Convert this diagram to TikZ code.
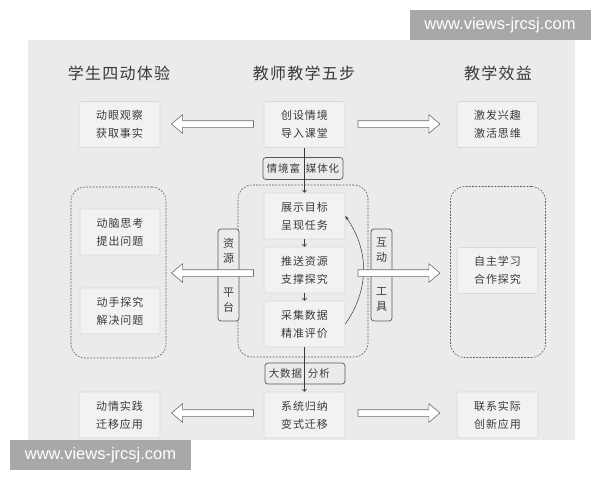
\documentclass[tikz,border=0pt]{standalone}
\usepackage{fontspec}
\newfontfamily\cjk[LetterSpace=8]{Noto Sans CJK SC}
\newfontfamily\wmfont{Liberation Sans}
\usetikzlibrary{positioning,shapes.arrows,arrows.meta,calc}
\definecolor{panelgray}{HTML}{EBEBEB}
\definecolor{boxgray}{HTML}{F2F2F2}
\definecolor{edgegray}{HTML}{D9D9D9}
\definecolor{inkgray}{HTML}{3A3A3A}
\definecolor{markgray}{HTML}{A8A8A8}

\tikzset{stepbox/.style={draw=edgegray,fill=boxgray,rounded corners=2pt,minimum width=81pt,minimum height=46pt,inner sep=0pt,align=center,text=inkgray,font=\cjk\fontsize{11}{18}\selectfont},
tagbox/.style={draw=inkgray!85,fill=panelgray,rounded corners=3pt,line width=0.7pt,inner sep=0pt,align=center,text=inkgray,font=\cjk\fontsize{10.5}{15}\selectfont},
groupbox/.style={draw=gray!70!black,dash pattern=on 1.8pt off 1.4pt,rounded corners=14pt,minimum width=95pt,minimum height=171pt},
fatarrow/.style={single arrow,draw=gray!85!black,fill=white,inner sep=3pt,single arrow head extend=6pt,single arrow tip angle=80,minimum height=82pt},
heading/.style={text=inkgray,font=\cjk\fontsize{16}{18}\selectfont},
watermark/.style={fill=markgray,text=white,minimum width=181pt,minimum height=30pt,inner sep=0pt,font=\wmfont\fontsize{16.5}{18}\selectfont}}

% a tag whose gap sits on the node centre
\newcommand{\splittag}[2]{\makebox[0pt][r]{#1\hspace{3pt}}\makebox[0pt][l]{\hspace{3pt}#2}}

\begin{document}
\begin{tikzpicture}[x=1pt,y=-1pt,line width=0.6pt]
\useasboundingbox[fill=white] (0,0) rectangle (600,480);

%% panel and watermarks
\fill[panelgray] (28,40) rectangle (575,440);
\node[watermark] (wm top) at (500,25) {www.views-jrcsj.com};
\node[watermark] (wm bottom) at (100.5,455) {www.views-jrcsj.com};

%% headings
\node[heading] (h left) at (119,73) {学生四动体验};
\node[heading] (h mid) at (304,73) {教师教学五步};
\node[heading] (h right) at (498,73) {教学效益};

%% dashed groups
\node[groupbox] (g left) at (118.5,272.5) {};
\node[groupbox,minimum width=130pt,minimum height=172pt] (g mid) at (303,271) {};
\node[groupbox] (g right) at (498,272) {};

%% top row
\node[stepbox] (top l) at (119.5,124.5) {动眼观察\\获取事实};
\node[stepbox] (top c) at (304.5,124.5) {创设情境\\导入课堂};
\node[stepbox] (top r) at (497.5,124.5) {激发兴趣\\激活思维};

%% middle steps
\node[stepbox] (step a) at (304.5,216) {展示目标\\呈现任务};
\node[stepbox] (step b) at (304.5,270) {推送资源\\支撑探究};
\node[stepbox] (step c) at (304.5,324) {采集数据\\精准评价};
\node[stepbox,minimum width=80pt] (mid la) at (120,232) {动脑思考\\提出问题};
\node[stepbox,minimum width=80pt] (mid lb) at (120,311) {动手探究\\解决问题};
\node[stepbox] (mid r) at (497.5,270.5) {自主学习\\合作探究};

%% bottom row
\node[stepbox] (bot l) at (119.5,415) {动情实践\\迁移应用};
\node[stepbox] (bot c) at (304.5,415) {系统归纳\\变式迁移};
\node[stepbox] (bot r) at (497.5,415) {联系实际\\创新应用};

%% tags
\node[tagbox,minimum width=80pt,minimum height=22pt] (tag media) at (303,168.5) {\splittag{情境富}{媒体化}};
\node[tagbox,minimum width=80pt,minimum height=21pt] (tag data) at (305,373.5) {\splittag{大数据}{分析}};
\node[tagbox,minimum width=21pt,minimum height=92pt,font=\cjk\fontsize{11}{15}\selectfont] (tag res) at (228.5,275) {资\\源\\[19pt]平\\台};
\node[tagbox,minimum width=21pt,minimum height=92pt,font=\cjk\fontsize{11}{15}\selectfont] (tag tool) at (381.5,275) {互\\动\\[19pt]工\\具};

%% vertical flow
\draw[-{To[length=3pt,width=5pt]},inkgray] (top c.south) -- (step a.north);
\draw[-{To[length=3pt,width=5pt]},inkgray] (step a.south) -- (step b.north);
\draw[-{To[length=3pt,width=5pt]},inkgray] (step b.south) -- (step c.north);
\draw[-{To[length=3pt,width=5pt]},inkgray] (step c.south) -- (bot c.north);
\draw[-{Stealth[length=4pt,width=3pt]},inkgray,line width=0.5pt] (step c.east) to[bend right=35] (step a.east);

%% hollow arrows
\node[fatarrow,shape border rotate=180] (arr tl) at (214.5,124) {};
\node[fatarrow] (arr tr) at (397,124) {};
\node[fatarrow,shape border rotate=180] (arr ml) at (214.5,273) {};
\node[fatarrow] (arr mr) at (397,273) {};
\node[fatarrow,shape border rotate=180] (arr bl) at (214.5,413) {};
\node[fatarrow] (arr br) at (397,413) {};

\end{tikzpicture}
\end{document}
